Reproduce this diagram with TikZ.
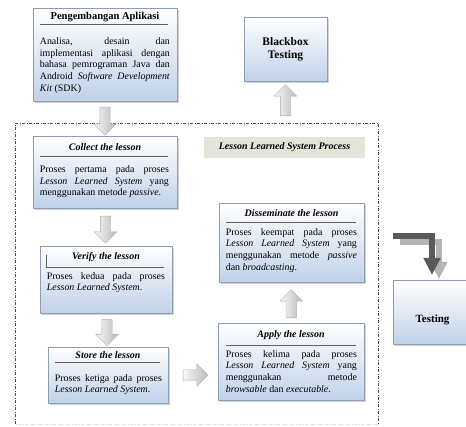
\documentclass[tikz,border=0pt]{standalone}
\usepackage{fontspec}
\setmainfont{Liberation Serif}
\usetikzlibrary{calc,shapes.arrows,shadows,arrows.meta}
\definecolor{boxbot}{HTML}{C0D2EA}
\definecolor{boxline}{HTML}{8E9DB0}
\definecolor{lblfill}{HTML}{E4E4D8}
\definecolor{darkarr}{HTML}{5A5A5A}
\definecolor{lightarr}{HTML}{B4B4B4}
\begin{document}
\begin{tikzpicture}[x=1pt,y=-1pt,
  box/.style={rectangle, draw=boxline, line width=0.6pt, top color=white, bottom color=boxbot,
    drop shadow={shadow xshift=2pt,shadow yshift=-2pt,opacity=0.35}, inner sep=0pt},
  ttl/.style={font=\fontsize{10}{12}\selectfont\bfseries\itshape, inner sep=0pt},
  ttlup/.style={font=\fontsize{10.5}{12}\selectfont\bfseries, inner sep=0pt},
  body/.style={font=\fontsize{9.9}{11.6}\selectfont, align=justify, inner sep=0pt, anchor=north west},
  sep/.style={draw=gray!75!black, line width=0.9pt},
  barrow/.style={single arrow, draw=gray!65, left color=gray!5, right color=gray!55,
    inner xsep=0pt, inner ysep=5pt, single arrow head extend=6pt, single arrow head indent=0pt,
    minimum height=#1},
  framestyle/.style={draw=gray!60!black, dash pattern=on 3pt off 1.6pt on 0.8pt off 1.6pt, line width=0.5pt}]
\useasboundingbox (0,0) rectangle (466,427);

% frame of the lesson learned system process
\coordinate (fnw) at (15,123);
\coordinate (fse) at (378,424);
\draw[framestyle] (fnw |- fse) -- (fnw) -- (fnw -| fse) -- (fse);
\draw[framestyle, draw=gray!25] (fse) -- (fnw |- fse);

% Pengembangan Aplikasi
\node[box, minimum width=144pt, minimum height=93pt] (peng) at (105,54.5) {};
\node[ttlup] (peng-t) at ($(peng.north)+(0,9)$) {Pengembangan Aplikasi};
\draw[sep] ($(peng.north west)+(7,17)$) -- ($(peng.north east)+(-9,17)$);
\node[body, text width=130pt] (peng-b) at ($(peng.north west)+(7,30)$)
  {Analisa, desain dan\linebreak implementasi aplikasi dengan\linebreak bahasa pemrograman Java dan\linebreak Android \textit{Software Development}\linebreak \textit{Kit} (SDK)};

% Blackbox Testing
\node[box, minimum width=83pt, minimum height=64pt, align=center,
  font=\fontsize{11.5}{13}\selectfont\bfseries] (bb) at (285.5,49) {Blackbox\\Testing};

% label
\node[fill=lblfill, minimum width=161pt, minimum height=21pt, inner sep=0pt,
  font=\fontsize{10}{12}\selectfont\bfseries\itshape] (llsp) at (284.5,147.5) {Lesson Learned System Process};

% Collect
\node[box, minimum width=144pt, minimum height=72pt] (collect) at (105,172) {};
\node[ttl] (collect-t) at ($(collect.north)+(0,11.5)$) {Collect the lesson};
\draw[sep] ($(collect.north west)+(7,21)$) -- ($(collect.north east)+(-9,21)$);
\node[body, text width=129pt] (collect-b) at ($(collect.north west)+(7,30)$)
  {Proses pertama pada proses\linebreak \textit{Lesson Learned System} yang\linebreak menggunakan metode \textit{passive}.};

% Verify
\node[box, minimum width=132pt, minimum height=67pt] (verify) at (106,279.5) {};
\node[ttl] (verify-t) at ($(verify.north)+(0,11)$) {Verify the lesson};
\draw[sep] ($(verify.north west)+(7,9)$) -- ($(verify.north west)+(7,22)$) -- ($(verify.north east)+(-8,22)$);
\node[body, text width=118pt] (verify-b) at ($(verify.north west)+(7,26.5)$)
  {Proses kedua pada proses\linebreak \textit{Lesson Learned System}.};

% Store
\node[box, minimum width=120pt, minimum height=56pt] (store) at (108,375) {};
\node[ttl] (store-t) at ($(store.north)+(0,8.5)$) {Store the lesson};
\draw[sep] ($(store.north west)+(7,16)$) -- ($(store.north east)+(-8,16)$);
\node[body, text width=107pt] (store-b) at ($(store.north west)+(7,27.5)$)
  {Proses ketiga pada proses\linebreak \textit{Lesson Learned System}.};

% Disseminate
\node[box, minimum width=145pt, minimum height=79pt] (dissem) at (291.5,242.5) {};
\node[ttl] (dissem-t) at ($(dissem.north)+(0,10)$) {Disseminate the lesson};
\draw[sep] ($(dissem.north west)+(7,20)$) -- ($(dissem.north east)+(-8,20)$);
\node[body, text width=131pt] (dissem-b) at ($(dissem.north west)+(7,25.5)$)
  {Proses keempat pada proses\linebreak \textit{Lesson Learned System} yang\linebreak menggunakan metode \textit{passive}\linebreak dan \textit{broadcasting}.};

% Apply
\node[box, minimum width=146pt, minimum height=77pt] (apply) at (291,361.5) {};
\node[ttl] (apply-t) at ($(apply.north)+(0,12)$) {Apply the lesson};
\draw[sep] ($(apply.north west)+(8,23)$) -- ($(apply.north east)+(-8,23)$);
\node[body, text width=131pt] (apply-b) at ($(apply.north west)+(8,27.5)$)
  {Proses kelima pada proses\linebreak \textit{Lesson Learned System} yang\linebreak menggunakan metode\linebreak \textit{browsable} dan \textit{executable}.};

% Testing
\node[box, minimum width=79pt, minimum height=64pt] (testing) at (432.5,312) {};
\node[font=\fontsize{11}{13}\selectfont\bfseries, inner sep=0pt] (testing-t) at ($(testing.center)+(0,8)$) {Testing};

% block arrows
\node[barrow=28pt, rotate=-90] (a1) at ($(peng.south)!0.5!(collect.north)$) {};
\node[barrow=27pt, rotate=-90] (a2) at ($(collect.south)!0.5!(verify.north)$) {};
\node[barrow=26pt, rotate=-90] (a3) at ($(verify.south)!0.5!(store.north)$) {};
\node[barrow=25pt] (a4) at ($(store.east)!0.5!(store.east -| apply.west)$) {};
\node[barrow=28pt, rotate=90] (a5) at ($(apply.north)!0.4!(dissem.south)$) {};
\node[barrow=31pt, rotate=90] (a6) at ($(bb.south |- fnw)!0.48!(bb.south)$) {};

% bent arrow towards Testing
\coordinate (la) at (400,242);
\coordinate (lb) at (439,279);
\coordinate (ta) at (393,236);
\coordinate (tb) at (432,275);
\draw[line width=6pt, lightarr, line join=miter, -{Triangle[length=17pt,width=16pt]}] (la) -| (lb);
\draw[line width=6pt, darkarr, line join=miter, -{Triangle[length=17pt,width=16pt]}] (ta) -| (tb);
\end{tikzpicture}
\end{document}
